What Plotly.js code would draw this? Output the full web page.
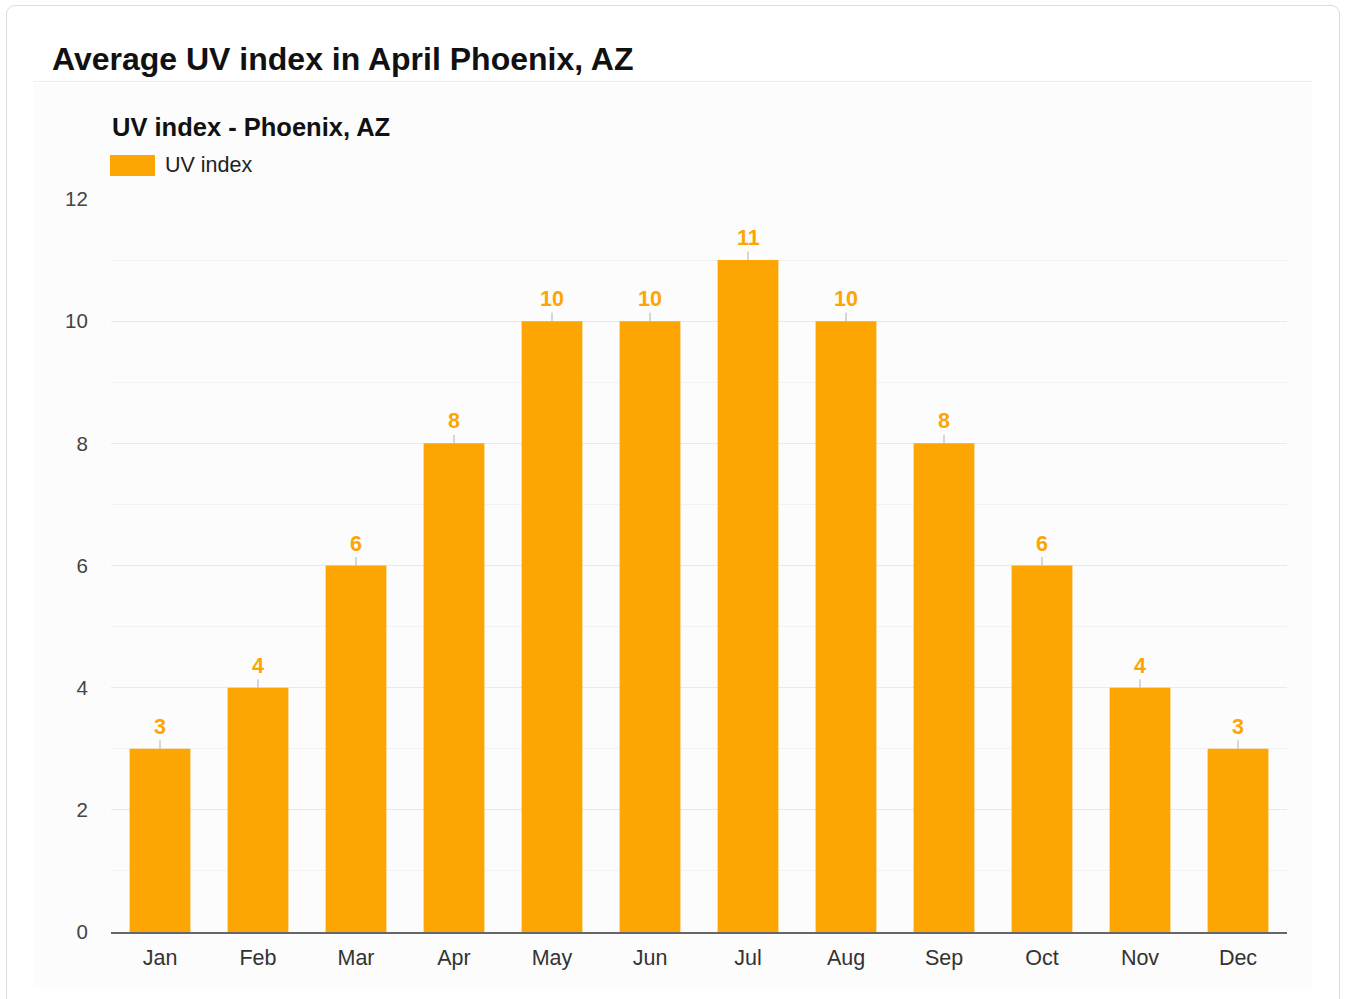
<!DOCTYPE html>
<html>
<head>
<meta charset="utf-8">
<script src="https://cdn.plot.ly/plotly-3.0.1.min.js"></script>
<style>
  html, body { margin: 0; padding: 0; background: #ffffff; width: 1346px; height: 999px; overflow: hidden; }
  #card { position: absolute; left: 6px; top: 5px; width: 1334px; height: 1010px; border: 1.5px solid #dcdcdc; border-radius: 9px; box-sizing: border-box; background: #ffffff; }
  #area { position: absolute; left: 33px; top: 83px; width: 1279px; height: 905px; background: #fbfcfb; }
  #rule { position: absolute; left: 33px; top: 81px; width: 1279px; height: 0; border-top: 1.5px solid #ececec; }
  #chart { position: absolute; left: 0; top: 0; width: 1346px; height: 999px; }
</style>
</head>
<body>
<div id="card"></div>
<div id="area"></div>
<div id="rule"></div>
<div id="chart"></div>
<script>
const months = ["Jan", "Feb", "Mar", "Apr", "May", "Jun", "Jul", "Aug", "Sep", "Oct", "Nov", "Dec"];
const uvIndex = [3, 4, 6, 8, 10, 10, 11, 10, 8, 6, 4, 3];
const yTickVals = [0, 2, 4, 6, 8, 10, 12];
const seriesName = "UV index";

const orange = "#fca503";
const font = "Arial, 'Liberation Sans', Helvetica, sans-serif";

const trace = {
  type: "bar",
  x: months,
  y: uvIndex,
  name: seriesName,
  marker: { color: orange },
  hoverinfo: "x+y",
  showlegend: false
};

const valueLabels = months.map((m, i) => ({
  x: m, y: uvIndex[i], xref: "x", yref: "y",
  text: "<b>" + uvIndex[i] + "</b>",
  showarrow: true, arrowhead: 0, arrowwidth: 1, arrowcolor: "#b0b0b0",
  ax: 0, ay: -22, standoff: 0, startstandoff: 0,
  font: { family: font, size: 21.5, color: orange }
}));

const annotations = valueLabels.concat([
  { xref: "paper", yref: "paper", x: 0, y: (932 - 127) / 733, xanchor: "left", yanchor: "middle",
    text: "<b>UV index - Phoenix, AZ</b>", showarrow: false, xshift: -1,
    font: { family: font, size: 25.5, color: "#111111" } },
  { xref: "paper", yref: "paper", x: (163 - 111) / 1176, y: (932 - 165) / 733, xanchor: "left", yanchor: "middle",
    text: seriesName, showarrow: false,
    font: { family: font, size: 21.5, color: "#222222" } }
]);

const shapes = [
  { type: "rect", xref: "paper", yref: "paper",
    x0: (110 - 111) / 1176, x1: (155 - 111) / 1176,
    y0: (932 - 176) / 733, y1: (932 - 155) / 733,
    fillcolor: orange, line: { width: 0 } }
];

const layout = {
  width: 1346, height: 999,
  margin: { l: 111, r: 59, t: 199, b: 67, pad: 0 },
  paper_bgcolor: "rgba(0,0,0,0)",
  plot_bgcolor: "rgba(0,0,0,0)",
  title: {
    text: "<b>Average UV index in April Phoenix, AZ</b>",
    xref: "container", yref: "container",
    x: 52 / 1346, xanchor: "left",
    y: 1 - 59 / 999, yanchor: "middle",
    font: { family: font, size: 32, color: "#111111" }
  },
  showlegend: false,
  bargap: 0.38,
  xaxis: {
    type: "category",
    showline: true, linecolor: "#666666", linewidth: 1.5,
    showgrid: false, zeroline: false,
    ticks: "outside", ticklen: 6, tickcolor: "rgba(0,0,0,0)",
    tickfont: { family: font, size: 21.5, color: "#333333" },
    fixedrange: true
  },
  yaxis: {
    range: [0, 12],
    tickvals: yTickVals,
    showline: false, zeroline: false,
    showgrid: true, gridcolor: "#e9e9e9", gridwidth: 1,
    minor: { dtick: 1, tick0: 0, showgrid: true, gridcolor: "#f2f2f2", gridwidth: 1, ticks: "" },
    ticks: "outside", ticklen: 18, tickcolor: "rgba(0,0,0,0)",
    tickfont: { family: font, size: 20.5, color: "#444444" },
    fixedrange: true
  },
  annotations: annotations,
  shapes: shapes,
  font: { family: font }
};

Plotly.newPlot("chart", [trace], layout, { displayModeBar: false, staticPlot: true });
</script>
</body>
</html>
